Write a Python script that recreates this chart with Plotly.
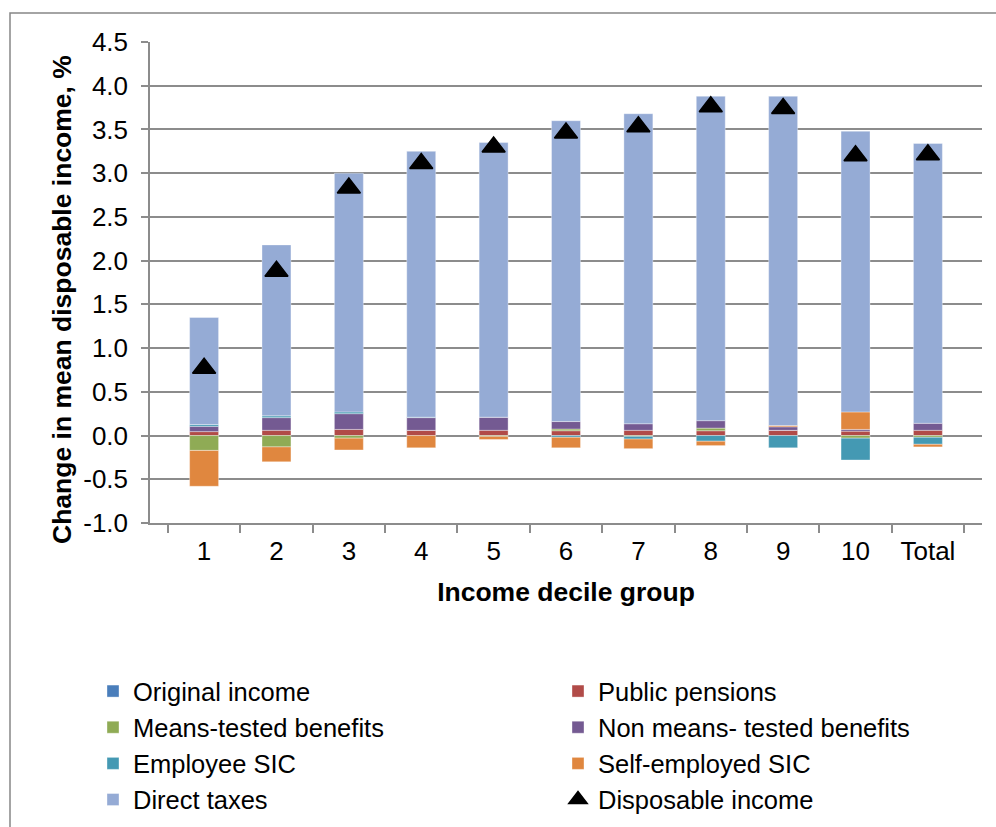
import plotly.graph_objects as go

categories = ['1', '2', '3', '4', '5', '6', '7', '8', '9', '10', 'Total']
original_income = [0, 0, 0, 0, 0, 0, 0, 0, 0, 0, 0]
public_pensions = [0.045, 0.06, 0.07, 0.06, 0.06, 0.055, 0.06, 0.055, 0.06, 0.05, 0.06]
means_tested = [-0.17, -0.13, -0.03, 0, -0.01, 0.02, -0.01, 0.03, 0, -0.03, -0.02]
non_means_tested = [0.06, 0.145, 0.18, 0.145, 0.15, 0.085, 0.075, 0.085, 0.04, 0.02, 0.08]
employee_sic = [0.02, 0.02, 0.02, 0.005, 0, -0.02, -0.03, -0.065, -0.14, -0.25, -0.08]
self_employed_sic = [-0.41, -0.17, -0.135, -0.14, -0.035, -0.12, -0.11, -0.05, 0.015, 0.20, -0.03]
direct_taxes = [1.225, 1.955, 2.73, 3.04, 3.14, 3.44, 3.545, 3.71, 3.765, 3.21, 3.20]
disposable_income = [0.77, 1.88, 2.83, 3.11, 3.30, 3.46, 3.53, 3.76, 3.74, 3.20, 3.21]

y_tick_values = [-1.0, -0.5, 0.0, 0.5, 1.0, 1.5, 2.0, 2.5, 3.0, 3.5, 4.0, 4.5]
y_tick_labels = ['-1.0', '-0.5', '0.0', '0.5', '1.0', '1.5', '2.0', '2.5', '3.0', '3.5', '4.0', '4.5']

series = [
    ('Original income', original_income, '#4A7EBB'),
    ('Public pensions', public_pensions, '#B14B48'),
    ('Means-tested benefits', means_tested, '#8FAB55'),
    ('Non means- tested benefits', non_means_tested, '#745A92'),
    ('Employee SIC', employee_sic, '#4499B3'),
    ('Self-employed SIC', self_employed_sic, '#E0873F'),
    ('Direct taxes', direct_taxes, '#95ABD5'),
]

FONT = 'Liberation Sans, Arial, sans-serif'
fig = go.Figure()
for name, vals, color in series:
    fig.add_trace(go.Bar(
        x=categories, y=vals, name=name,
        marker=dict(color=color, line=dict(width=0.6, color='rgba(255,255,255,0.6)')),
    ))
fig.add_trace(go.Scatter(
    x=categories, y=disposable_income, name='Disposable income', mode='markers',
    marker=dict(symbol='triangle-up', size=20, color='black', line=dict(width=1.5, color='black')),
))

W, H = 996, 827
L, R, T, B = 150, 14, 42, 304
pw, ph = W - L - R, H - T - B

def px(x):
    return (x - L) / pw

def py(y):
    return (H - B - y) / ph

fig.update_layout(
    width=W, height=H,
    margin=dict(l=L, r=R, t=T, b=B, autoexpand=False),
    barmode='relative', bargap=0.6,
    plot_bgcolor='white', paper_bgcolor='white',
    font=dict(family=FONT, size=26, color='black'),
    showlegend=True,
    legend=dict(
        orientation='h', x=px(93), y=py(668), xanchor='left', yanchor='top',
        entrywidth=420, entrywidthmode='pixels', traceorder='normal',
        font=dict(size=25.5, family=FONT), itemsizing='trace', bgcolor='rgba(0,0,0,0)',
    ),
    xaxis=dict(
        type='category', showline=True, linecolor='#8C8C8C', linewidth=1.5,
        ticks='outside', tickson='boundaries', ticklen=8, tickcolor='#8C8C8C', tickwidth=1.5,
        tickfont=dict(size=26), showgrid=False, ticklabelstandoff=4,
        title=dict(text='<b>Income decile group</b>', font=dict(size=26.5), standoff=17),
    ),
    yaxis=dict(
        range=[-1.0, 4.5], tickmode='array', tickvals=y_tick_values, ticktext=y_tick_labels,
        showline=True, linecolor='#8C8C8C', linewidth=1.5,
        ticks='outside', ticklen=7, tickcolor='#8C8C8C', tickwidth=1.5,
        showgrid=True, gridcolor='#8C8C8C', gridwidth=1.5, zeroline=False,
        tickfont=dict(size=26), ticklabelstandoff=8,
    ),
    annotations=[dict(
        text='<b>Change in mean disposable income, %</b>', textangle=-90,
        xref='paper', yref='paper', x=px(62), y=py(300), xanchor='center', yanchor='middle',
        showarrow=False, font=dict(size=26.5, family=FONT, color='black'),
    )],
    shapes=[dict(type='rect', xref='paper', yref='paper',
                 x0=px(10), x1=px(1005), y0=py(840), y1=py(13),
                 line=dict(color='#868686', width=1.5), layer='below')],
)

fig.write_html('out.html')
